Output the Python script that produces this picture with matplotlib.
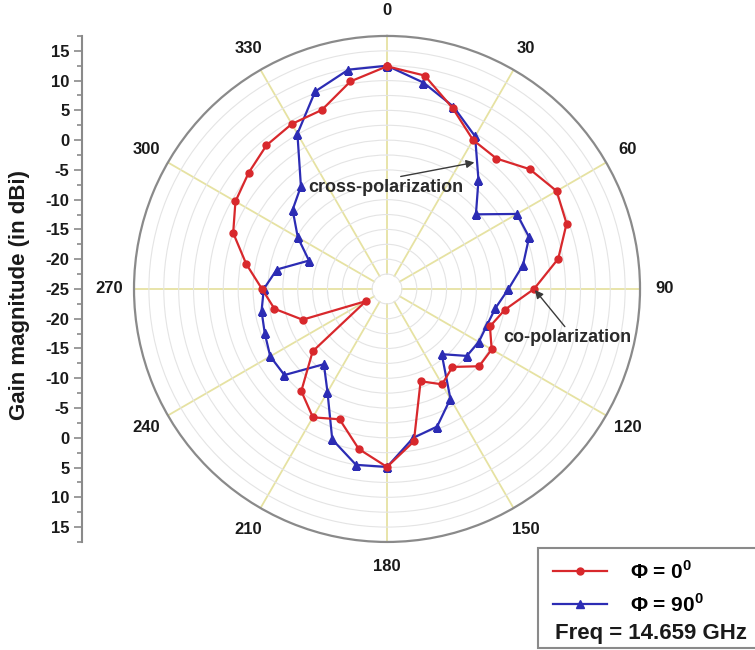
import numpy as np
import matplotlib
matplotlib.use("Agg")
import matplotlib.pyplot as plt
from matplotlib.lines import Line2D
from matplotlib.patches import Rectangle
from matplotlib.ticker import FixedLocator, FuncFormatter

plt.rcParams['font.family'] = ['Liberation Sans', 'DejaVu Sans']
plt.rcParams['mathtext.fontset'] = 'custom'
plt.rcParams['mathtext.rm'] = 'Liberation Sans'
plt.rcParams['mathtext.bf'] = 'Liberation Sans:bold'

# Radiation pattern, gain in dBi every 10 degrees (0..350)
angles_deg = list(range(0, 360, 10))
gain_phi0 = [12.4, 11.4, 7.3, 3.9, 3.6, 6.3, 7.9, 7.1, 4.2, -0.3,
             -4.9, -6.6, -4.7, -4.8, -7.9, -6.5, -8.5, 1.0, 4.9, 2.3,
             -1.7, -0.1, -2.6, -8.7, -20.9, -9.9, -5.8, -4.0, -1.0, 2.5,
             4.4, 5.35, 6.5, 7.0, 7.0, 10.4]
gain_phi90 = [12.5, 10.2, 7.6, 4.6, -1.1, -5.5, 0.2, 0.4, -1.8, -4.6,
              -6.5, -7.15, -7.2, -7.5, -10.7, -3.7, -0.4, 0.4, 4.9, 5.0,
              1.9, -5.0, -8.5, -2.5, -2.35, -3.15, -3.6, -4.3, -6.2, -11.05,
              -7.7, -4.3, -2.5, 5.1, 10.3, 12.4]

angle_ticks = list(range(0, 360, 30))
angle_labels = [str(a) for a in angle_ticks]
series_labels = ['Φ = 0$^{\\mathbf{0}}$', 'Φ = 90$^{\\mathbf{0}}$']
freq_label = 'Freq = 14.659 GHz'

r_min, r_max = -25.0, 17.5
red = '#d8282c'
blue = '#2c2cb4'

fig = plt.figure(figsize=(7.55, 6.5), dpi=100)

# Polar axes
ax = fig.add_axes([0.1775, 0.1662, 0.6702, 0.7785], projection='polar')
ax.set_theta_zero_location('N')
ax.set_theta_direction(-1)

# radial spokes every 30 degrees, leaving a hole in the middle
for a in angle_ticks:
    ax.plot([np.radians(a)] * 2, [r_min + 2.5, r_max], color='#e6e2a2',
            lw=1.3, zorder=1)

def closed(values):
    th = np.radians(angles_deg + [360])
    return th, np.array(values + values[:1])

th0, g0 = closed(gain_phi0)
th90, g90 = closed(gain_phi90)
ax.plot(th0, g0, color=red, lw=1.6, marker='o', ms=5, zorder=5)
ax.plot(th90, g90, color=blue, lw=1.6, marker='^', ms=5.5, zorder=4)

ax.set_ylim(r_min, r_max)
ax.set_yticks(np.arange(r_min + 2.5, r_max, 2.5))
ax.set_yticklabels([])
ax.yaxis.grid(True, color='#e4e4e4', lw=0.8)
ax.xaxis.grid(False)

ax.set_xticks(np.radians(angle_ticks))
ax.set_xticklabels(angle_labels, fontsize=12, fontweight='bold', color='#1a1a1a')
ax.set_xticks(np.radians(np.arange(15, 360, 30)), minor=True)
ax.tick_params(axis='x', which='both', direction='in', length=6, width=1,
               color='#777777', pad=11)
ax.spines['polar'].set_color('#8a8a8a')
ax.spines['polar'].set_linewidth(1.6)

arrow = dict(arrowstyle='-|>', color='#3a3a3a', lw=1, mutation_scale=12,
             shrinkA=0, shrinkB=1, relpos=(0.5, 1.0))
ax.annotate('cross-polarization', xy=(np.radians(35), 1.0),
            xytext=(np.radians(-0.5), -8.0), textcoords='data',
            ha='center', va='center', fontsize=13, fontweight='bold',
            color='#2a2a2a', arrowprops=arrow, zorder=6)
ax.annotate('co-polarization', xy=(np.radians(90), gain_phi0[9]),
            xytext=(np.radians(105.2), 6.35), textcoords='data',
            ha='center', va='center', fontsize=13, fontweight='bold',
            color='#2a2a2a', arrowprops=arrow, zorder=6)

# Linear gain scale on the left, mirrored about the centre (-25 dBi)
ax2 = fig.add_axes([82 / 755, 0.1662, 0.0005, 0.7785])
ax2.set_ylim(-(r_max - r_min), r_max - r_min)
ax2.patch.set_visible(False)
for s in ('top', 'right', 'bottom'):
    ax2.spines[s].set_visible(False)
ax2.spines['left'].set_color('#8a8a8a')
ax2.spines['left'].set_linewidth(1.5)
ax2.set_xticks([])
ax2.yaxis.set_major_locator(FixedLocator(np.arange(-40, 41, 5)))
ax2.yaxis.set_minor_locator(FixedLocator(np.arange(-42.5, 42.6, 2.5)))
ax2.yaxis.set_major_formatter(
    FuncFormatter(lambda p, _: f'{int(round(abs(p) + r_min))}'))
ax2.tick_params(axis='y', which='major', length=6, width=1.2,
                color='#8a8a8a', labelsize=12, pad=3)
ax2.tick_params(axis='y', which='minor', length=3.5, width=1.2,
                color='#8a8a8a')
for lbl in ax2.get_yticklabels():
    lbl.set_fontweight('bold')
    lbl.set_color('#1a1a1a')

fig.text(0.026, 0.546, 'Gain magnitude (in dBi)', rotation=90,
         ha='center', va='center', fontsize=16, fontweight='bold',
         color='#1a1a1a')

# Legend box
fig.patches.append(Rectangle((538 / 755, 2 / 650), 0.32, 100 / 650,
                             transform=fig.transFigure, facecolor='white',
                             edgecolor='#8a8a8a', lw=1.5, zorder=0))
handles = [Line2D([], [], color=red, lw=1.6, marker='o', ms=5),
           Line2D([], [], color=blue, lw=1.6, marker='^', ms=5.5)]
leg = fig.legend(handles, series_labels, loc='upper left',
                 bbox_to_anchor=(549 / 755, 1 - 556 / 650), frameon=False,
                 prop={'size': 15, 'weight': 'bold'}, handlelength=2.6,
                 handletextpad=1.1, labelspacing=0.5, borderpad=0.2,
                 borderaxespad=0)
fig.text(555 / 755, 1 - 634 / 650, freq_label, ha='left', va='center',
         fontsize=16, fontweight='bold', color='#1a1a1a')

fig.savefig('out.png', dpi=100)
